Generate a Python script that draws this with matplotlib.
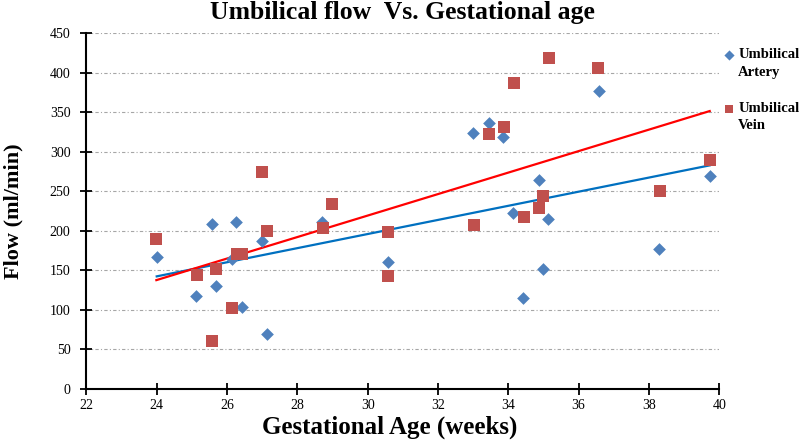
import numpy as np
import matplotlib
matplotlib.use("Agg")
import matplotlib.pyplot as plt

# Umbilical artery (blue diamonds)
artery_weeks = [24.0, 25.13, 25.58, 25.70, 26.13, 26.26, 26.43, 27.0, 27.14, 28.71,
                30.57, 33.0, 33.44, 33.85, 34.14, 34.86, 35.13, 34.99, 34.42, 36.58,
                38.29, 39.73]
artery_flow = [167, 117, 209, 130, 164, 211, 103, 187, 69, 211,
               160, 324, 336, 319, 223, 264, 215, 151, 115, 377,
               177, 269]

# Umbilical vein (red squares)
vein_weeks = [23.99, 25.14, 25.58, 25.70, 26.15, 26.27, 26.44, 27.0, 27.14, 28.72,
              28.99, 30.57, 30.57, 33.02, 33.45, 33.87, 34.15, 34.44, 34.86, 35.0,
              35.15, 36.56, 38.31, 39.73]
vein_flow = [190, 144, 61, 151, 102, 170, 170, 275, 200, 203,
             234, 198, 143, 207, 322, 332, 387, 218, 229, 244,
             419, 406, 250, 290]

xticks = list(range(22, 41, 2))
yticks = list(range(0, 451, 50))

serif = ["Liberation Serif", "DejaVu Serif"]

fig = plt.figure(figsize=(8, 4.41), dpi=100)
ax = fig.add_axes([0.108, 0.1184, 0.791, 0.8061])

ax.scatter(artery_weeks, artery_flow, marker="D", s=42, color="#4F81BD",
           zorder=3, label="Umbilical\nArtery", linewidths=0)
ax.scatter(vein_weeks, vein_flow, marker="s", s=64, color="#C0504D",
           zorder=3, label="Umbilical\nVein", linewidths=0)

# linear trend lines
for xs, ys, c in [(artery_weeks, artery_flow, "#0070C0"),
                  (vein_weeks, vein_flow, "#FF0000")]:
    k, b = np.polyfit(xs, ys, 1)
    xx = np.array([min(xs), max(xs)])
    ax.plot(xx, k * xx + b, color=c, lw=1.6, zorder=2)

ax.set_xlim(22, 40)
ax.set_ylim(0, 450)
ax.set_xticks(xticks)
ax.set_yticks(yticks)
ax.yaxis.grid(True, color="#A6A6A6", linestyle=(0, (3, 2, 1, 2)), lw=0.8)
ax.set_axisbelow(True)

for s in ["top", "right"]:
    ax.spines[s].set_visible(False)
for s in ["left", "bottom"]:
    ax.spines[s].set_linewidth(1.5)
ax.tick_params(direction="inout", length=9, width=1.3, labelsize=10)
ax.tick_params(axis="x", pad=3)
ax.tick_params(axis="y", pad=7)
for lab in ax.get_xticklabels() + ax.get_yticklabels():
    lab.set_family(serif)

ax.set_title("Umbilical flow  Vs. Gestational age", family=serif,
             fontweight="bold", fontsize=18.5, pad=10.3)
ax.set_xlabel("Gestational Age (weeks)", family=serif, fontweight="bold",
              fontsize=18)
ax.xaxis.set_label_coords(0.479, -0.074)
ax.set_ylabel("Flow (ml/min)", family=serif, fontweight="bold", fontsize=16)
ax.yaxis.set_label_coords(-0.099, 0.5)

leg = ax.legend(loc="upper left", bbox_to_anchor=(1.0, 0.975), frameon=False,
                prop={"family": serif, "weight": "bold", "size": 10.5},
                handlelength=0.6, handletextpad=0.3, labelspacing=1.6,
                borderaxespad=0, markerscale=0.8)
for t in leg.get_texts():
    t.set_linespacing(1.45)
# line the marker up with the first text line, as in the original
for h in leg.legend_handles:
    off = h.get_offsets().copy()
    off[:, 1] += 6.5
    h.set_offsets(off)

fig.savefig("out.png", dpi=100)
